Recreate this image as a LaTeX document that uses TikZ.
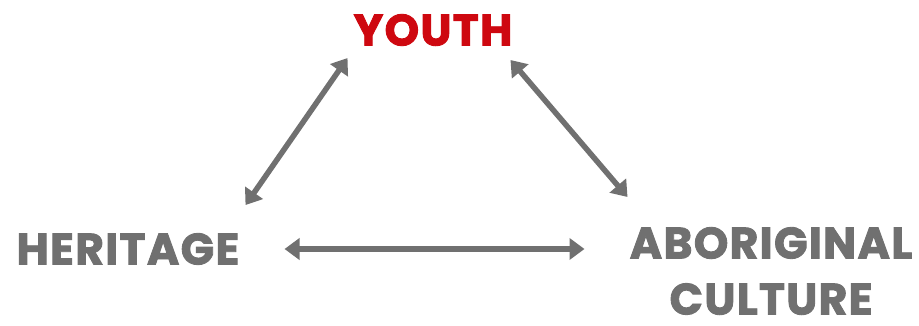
\documentclass[tikz,border=0pt]{standalone}
\usepackage{fontspec}
\setmainfont{Poppins}[BoldFeatures={FakeBold=2}, LetterSpace=3]
\usepackage{tikz}
\usetikzlibrary{arrows.meta,positioning}
\definecolor{slate}{RGB}{112,112,112}
\definecolor{youthred}{RGB}{206,8,16}

\begin{document}
\begin{tikzpicture}[
  x=1pt, y=-1pt,
  word/.style ={inner sep=0pt, text=slate, align=center,
                font=\fontsize{44}{56}\selectfont\bfseries},
  arr/.style  ={{Triangle[length=15pt,width=21pt]}-{Triangle[length=15pt,width=21pt]},
                draw=slate, line width=5.5pt}
]
\useasboundingbox (0,0) rectangle (919,326);

\node[word, text=youthred] (youth) at (433,30) {YOUTH};
\node[word] (herit) at (128,249) {HERITAGE};
\node[word] (abor)  at (771,271) {ABORIGINAL\\CULTURE};

\draw[arr] ([xshift=6pt,yshift=28pt]herit.north east) -- ([xshift=-6pt,yshift=-12pt]youth.south west);
\draw[arr] ([xshift=-2pt,yshift=-14pt]youth.south east) -- ([xshift=-2pt,yshift=30pt]abor.north west);
\draw[arr] ([xshift=45pt]herit.east) -- ([xshift=-45pt]herit.east -| abor.west);
\end{tikzpicture}
\end{document}
